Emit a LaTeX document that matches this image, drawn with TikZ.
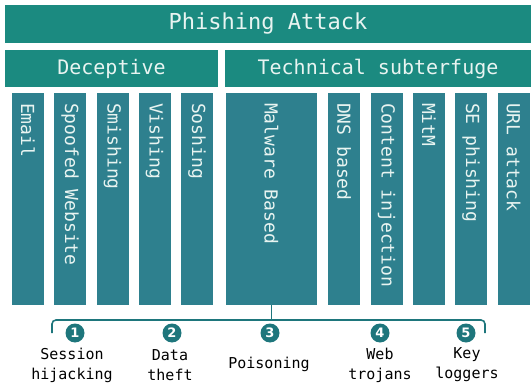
\documentclass[tikz,border=0pt]{standalone}
\usepackage{xcolor}
\usepackage{fontspec}
\usepackage{tikz}
\setmainfont{DejaVu Sans Mono}
\newfontfamily\angka{DejaVu Sans}
\definecolor{hijau}{RGB}{27,138,128}
\definecolor{biru}{RGB}{46,128,142}
\definecolor{lingkar}{RGB}{30,118,124}
\definecolor{putih}{RGB}{232,244,241}
\tikzstyle{judul} = [rectangle, fill=hijau, text=putih, minimum height=38pt, inner sep=0pt, font=\fontsize{22}{26}\selectfont]
\tikzstyle{kelompok} = [rectangle, fill=hijau, text=putih, minimum height=37pt, inner sep=0pt, font=\fontsize{20}{24}\selectfont]
\tikzstyle{batang} = [rectangle, fill=biru, text=putih, rotate=-90, minimum width=212pt, minimum height=32pt, inner xsep=10pt, text width=192pt, align=flush left, font=\fontsize{18}{22}\selectfont]
\tikzstyle{nomor} = [circle, fill=lingkar, text=white, minimum size=19pt, inner sep=0pt, font=\angka\bfseries\fontsize{13}{15}\selectfont]
\tikzstyle{ket} = [align=center, font=\fontsize{15}{20}\selectfont]
\tikzstyle{kurung} = [lingkar, line width=1.6pt, rounded corners=4pt]

\begin{document}
\begin{tikzpicture}[x=1pt, y=-1pt]
			\useasboundingbox (0,0) rectangle (531,388);
			% kotak judul dan kelompok
			\node (phishing) [judul, minimum width=526pt] at (268,24) {Phishing Attack};
			\node (deceptive) [kelompok, minimum width=213pt] at (111.5,68.5) {Deceptive};
			\node (technical) [kelompok, minimum width=306pt] at (378,68.5) {Technical subterfuge};

			% batang tegak (teks diputar)
			\node (email) [batang] at (28,199) {Email};
			\node (spoofed) [batang] at (70,199) {Spoofed Website};
			\node (smishing) [batang] at (112.5,199) {Smishing};
			\node (vishing) [batang] at (154.5,199) {Vishing};
			\node (soshing) [batang] at (197,199) {Soshing};
			\node (malware) [batang, minimum height=91pt] at (271.5,199) {Malware Based};
			\node (dns) [batang] at (344,199) {DNS based};
			\node (content) [batang] at (386.5,199) {Content injection};
			\node (mitm) [batang] at (429,199) {MitM};
			\node (sephish) [batang] at (471,199) {SE phishing};
			\node (url) [batang] at (513.5,199) {URL attack};

			% kurung di bawah
			\coordinate (kurungkiri) at (52,333);
			\coordinate (kurungatas) at (271.5,320);
			\coordinate (kurungkanan) at (485,333);
			\draw [kurung] (kurungkiri) |- (kurungatas) -| (kurungkanan);
			\draw [kurung] (malware.east) -- (kurungatas);

			% nomor dan keterangan
			\node (satu) [nomor] at (75,333) {1};
			\node (dua) [nomor] at (172,333) {2};
			\node (tiga) [nomor] at (270,333) {3};
			\node (empat) [nomor] at (380,333) {4};
			\node (lima) [nomor] at (466,333) {5};
			\node (session) [ket] at (72,365) {Session\\hijacking};
			\node (data) [ket] at (170,365) {Data\\theft};
			\node (poisoning) [ket] at (269,364) {Poisoning};
			\node (web) [ket] at (380,365) {Web\\trojans};
			\node (key) [ket] at (467,365) {Key\\loggers};
		\end{tikzpicture}
\end{document}
